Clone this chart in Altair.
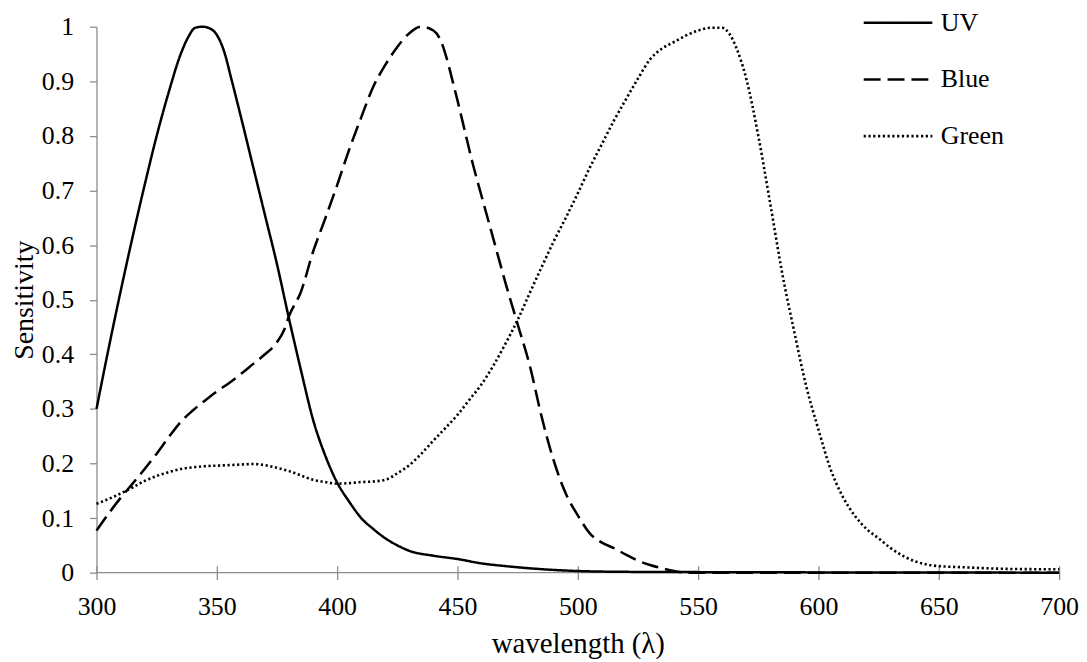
import altair as alt
import pandas as pd

uv_wl = [300, 305, 310, 315, 320, 325, 330, 335, 338, 341, 344, 347, 350, 353, 356, 360, 365, 370, 375, 380,
         385, 390, 395, 400, 405, 410, 415, 420, 425, 430, 440, 450, 460, 470, 480, 490, 500, 520, 550, 600,
         650, 700]
uv_s = [0.30, 0.41, 0.515, 0.615, 0.71, 0.80, 0.88, 0.95, 0.98, 0.998, 1.0, 0.997, 0.985, 0.955, 0.905, 0.835,
        0.745, 0.655, 0.565, 0.465, 0.37, 0.28, 0.215, 0.165, 0.13, 0.10, 0.08, 0.063, 0.05, 0.04, 0.031,
        0.025, 0.017, 0.012, 0.008, 0.005, 0.003, 0.0015, 0.001, 0.0005, 0.0002, 0.0]

blue_wl = [300, 305, 310, 315, 320, 325, 330, 335, 340, 345, 350, 355, 360, 365, 370, 375, 378, 380, 385, 390,
           395, 400, 405, 410, 415, 420, 425, 430, 435, 440, 443, 445, 448, 450, 453, 456, 460, 465, 470, 475,
           480, 485, 490, 495, 500, 505, 510, 515, 520, 525, 530, 535, 540, 545, 600, 700]
blue_s = [0.077, 0.108, 0.137, 0.163, 0.19, 0.218, 0.248, 0.276, 0.297, 0.315, 0.332, 0.347, 0.364, 0.382, 0.40,
          0.422, 0.445, 0.47, 0.515, 0.588, 0.648, 0.71, 0.775, 0.834, 0.89, 0.93, 0.963, 0.988, 1.0, 0.993,
          0.975, 0.95, 0.90, 0.865, 0.81, 0.755, 0.69, 0.61, 0.53, 0.455, 0.38, 0.285, 0.205, 0.145, 0.105,
          0.072, 0.055, 0.045, 0.033, 0.022, 0.014, 0.008, 0.003, 0.0, 0.0, 0.0]

green_wl = [300, 305, 310, 315, 320, 325, 330, 335, 340, 345, 350, 355, 360, 365, 370, 375, 380, 385, 390, 395,
            400, 405, 410, 415, 420, 425, 430, 435, 440, 445, 450, 455, 460, 465, 470, 475, 480, 485, 490, 495,
            500, 505, 510, 515, 520, 525, 530, 535, 540, 545, 550, 555, 560, 563, 566, 570, 575, 580, 585, 590,
            595, 600, 605, 610, 615, 620, 625, 630, 635, 640, 645, 650, 660, 670, 680, 690, 700]
green_s = [0.126, 0.135, 0.145, 0.156, 0.168, 0.177, 0.184, 0.19, 0.193, 0.195, 0.196, 0.197, 0.198, 0.199,
           0.197, 0.192, 0.186, 0.178, 0.17, 0.166, 0.163, 0.164, 0.166, 0.167, 0.17, 0.182, 0.197, 0.218,
           0.242, 0.265, 0.289, 0.317, 0.345, 0.38, 0.42, 0.463, 0.512, 0.56, 0.607, 0.65, 0.695, 0.742,
           0.785, 0.828, 0.867, 0.905, 0.94, 0.96, 0.972, 0.984, 0.993, 0.998, 0.998, 0.987, 0.96, 0.905,
           0.80, 0.675, 0.547, 0.44, 0.34, 0.262, 0.19, 0.14, 0.105, 0.08, 0.063, 0.045, 0.031, 0.021,
           0.015, 0.012, 0.010, 0.008, 0.0068, 0.0064, 0.0064]

series = ["UV", "Blue", "Green"]
x_ticks = [300, 350, 400, 450, 500, 550, 600, 650, 700]
y_ticks = [0, 0.1, 0.2, 0.3, 0.4, 0.5, 0.6, 0.7, 0.8, 0.9, 1.0]

rows = []
for name, wl, s in [("UV", uv_wl, uv_s), ("Blue", blue_wl, blue_s), ("Green", green_wl, green_s)]:
    for a, b in zip(wl, s):
        rows.append({"series": name, "wavelength": a, "sensitivity": b})
df = pd.DataFrame(rows)

FONT = "Liberation Serif"
AXIS_GRAY = "#8c8c8c"

x_scale = alt.Scale(domain=[300, 700], nice=False, zero=False)
y_scale = alt.Scale(domain=[0, 1], nice=False)

legend_opts = dict(title=None, orient="none", legendX=770, legendY=-17,
                   symbolType="stroke", symbolSize=4761, symbolStrokeColor="black",
                   clipHeight=26, rowPadding=31, labelOffset=7,
                   labelFontSize=26, labelFont=FONT, labelColor="black")

axis_line = alt.Chart(pd.DataFrame({"v": [0]})).mark_rule(color=AXIS_GRAY, strokeWidth=1.3).encode(
    y=alt.Y("v:Q", scale=y_scale)
)

lines = alt.Chart(df).mark_line(color="black", interpolate="monotone").encode(
    x=alt.X("wavelength:Q", scale=x_scale,
            axis=alt.Axis(values=x_ticks, title="wavelength (λ)", grid=False, domain=False,
                          tickSize=14, offset=-7, tickColor=AXIS_GRAY, tickWidth=1.3,
                          labelFlush=False, labelPadding=14, titlePadding=10, titleFontSize=29)),
    y=alt.Y("sensitivity:Q", scale=y_scale,
            axis=alt.Axis(values=y_ticks, format="~g", title="Sensitivity", grid=False,
                          domainColor=AXIS_GRAY, domainWidth=1.3, tickColor=AXIS_GRAY, tickWidth=1.3,
                          tickSize=7, labelPadding=16, titlePadding=3)),
    strokeDash=alt.StrokeDash("series:N", scale=alt.Scale(domain=series, range=[[1, 0], [17, 7], [2.2, 2.6]]),
                              legend=alt.Legend(**legend_opts)),
    strokeWidth=alt.StrokeWidth("series:N", scale=alt.Scale(domain=series, range=[2.5, 2.6, 2.2]),
                                legend=alt.Legend(**legend_opts)),
    order=alt.Order("wavelength:Q"),
)

chart = alt.layer(axis_line, lines).properties(
    width=968, height=549,
    background="white",
    padding={"left": 2, "top": 0, "right": 0, "bottom": 0},
).configure_view(stroke=None).configure_axis(
    labelFont=FONT, titleFont=FONT, labelFontSize=26, titleFontSize=28,
    labelColor="black", titleColor="black", titleFontWeight="normal",
)

chart.save("out.html", embed_options={"renderer": "svg", "actions": False})
